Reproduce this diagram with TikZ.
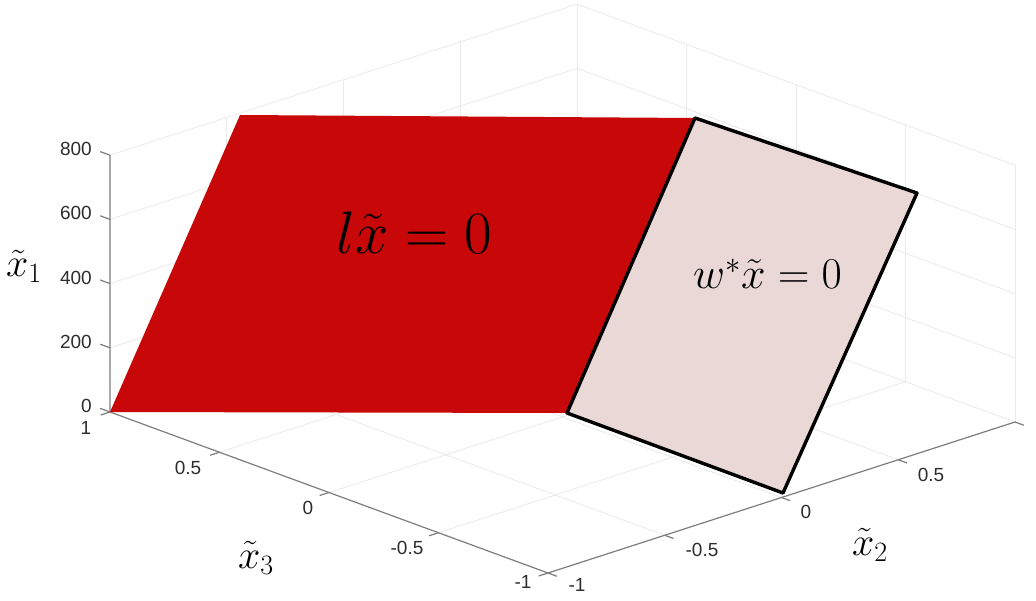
\RequirePackage{fix-cm}
\documentclass[tikz,border=0pt]{standalone}
\usepackage[no-math]{fontspec}
\newfontfamily\ticksf{Liberation Sans}
\definecolor{planered}{RGB}{200,8,8}
\definecolor{planepink}{RGB}{233,216,214}
\definecolor{gridc}{RGB}{234,234,234}
\definecolor{axisc}{RGB}{125,125,125}
\definecolor{tickc}{RGB}{45,45,45}
\tikzset{
  gridline/.style={draw=gridc, line width=0.9pt},
  axisline/.style={draw=axisc, line width=1.2pt},
  ticklab/.style={font=\ticksf\fontsize{19}{22}\selectfont, text=tickc, inner sep=0pt},
  mathlab/.style={inner sep=0pt, text=black},
  redplane/.style={fill=planered, draw=none},
  pinkplane/.style={fill=planepink, draw=black, line width=3.4pt, line join=round}
}
\begin{document}
\begin{tikzpicture}[x=1pt,y=-1pt]
\useasboundingbox (0,0) rectangle (1036,601);
% 3D box: a = x2+1, b = x3-1, c = x1
\begin{scope}[shift={(110,412)}, x={(233.5pt,75.5pt)}, y={(-219pt,80.5pt)}, z={(0pt,0.321pt)}]
  % back walls
  \foreach \c in {0,200,400,600,800} {
    \draw[gridline] (0,0,\c) -- (2,0,\c) -- (2,-2,\c);
  }
  \foreach \a in {0.5,1,1.5,2} {
    \draw[gridline] (\a,0,0) -- (\a,0,800);
  }
  \foreach \b in {-0.5,-1,-1.5,-2} {
    \draw[gridline] (2,\b,0) -- (2,\b,800);
  }
  % floor
  \foreach \b in {-0.5,-1,-1.5} {
    \draw[gridline] (0,\b,0) -- (2,\b,0);
  }
  \foreach \a in {0.5,1,1.5} {
    \draw[gridline] (\a,0,0) -- (\a,-2,0);
  }
  % axes
  \coordinate (o) at (0,0,0);
  \coordinate (ztop) at (0,0,800);
  \coordinate (yend) at (0,-2,0);
  \coordinate (xend) at (2,-2,0);
  \draw[axisline] (ztop) -- (o) -- (yend) -- (xend);
  % ticks
  \foreach \c in {0,200,400,600,800} {
    \draw[axisline] (0,0,\c) -- ++(0,0.045,0);
  }
  \foreach \b in {0,-0.5,-1,-1.5,-2} {
    \draw[axisline] (0,\b,0) -- ++(-0.04,0,0);
  }
  \foreach \a in {0,0.5,1,1.5,2} {
    \draw[axisline] (\a,-2,0) -- ++(0,-0.04,0);
  }
\end{scope}
% planes
\coordinate (r1) at (110,412);
\coordinate (r2) at (240,115);
\coordinate (r3) at (695,118);
\coordinate (r4) at (567,413);
\coordinate (p3) at (917,193);
\coordinate (p4) at (783,493);
\fill[redplane] (r1) -- (r2) -- (r3) -- (r4) -- cycle;
\draw[pinkplane] (r4) -- (r3) -- (p3) -- (p4) -- cycle;
% plane labels
\node[mathlab, anchor=base west, font=\fontsize{60}{72}\selectfont] (leq) at (336,254) {$l\tilde{x}=0$};
\node[mathlab, anchor=base west, font=\fontsize{44}{53}\selectfont] (weq) at (693,289) {$w^{*}\tilde{x}=0$};
% axis labels
\node[mathlab, anchor=base west, font=\fontsize{40}{48}\selectfont] (x1lab) at (6,277) {$\tilde{x}_1$};
\node[mathlab, anchor=base west, font=\fontsize{40}{48}\selectfont] (x3lab) at (238,568) {$\tilde{x}_3$};
\node[mathlab, anchor=base west, font=\fontsize{40}{48}\selectfont] (x2lab) at (852,555) {$\tilde{x}_2$};
% x1 tick labels
\node[ticklab, anchor=east] (t800) at (92,149.2) {800};
\node[ticklab, anchor=east] (t600) at (92,213.4) {600};
\node[ticklab, anchor=east] (t400) at (92,277.6) {400};
\node[ticklab, anchor=east] (t200) at (92,341.8) {200};
\node[ticklab, anchor=east] (t0) at (92,406) {0};
% x3 tick labels
\node[ticklab] (s1) at (86,428) {1};
\node[ticklab] (s05) at (188,468) {0.5};
\node[ticklab] (s0) at (308,508) {0};
\node[ticklab] (sm05) at (407,548) {-0.5};
\node[ticklab] (sm1) at (523,582) {-1};
% x2 tick labels
\node[ticklab] (u1) at (577,585) {-1};
\node[ticklab] (um05) at (702,550) {-0.5};
\node[ticklab] (u0) at (806,512) {0};
\node[ticklab] (u05) at (931,475) {0.5};
\end{tikzpicture}
\end{document}
